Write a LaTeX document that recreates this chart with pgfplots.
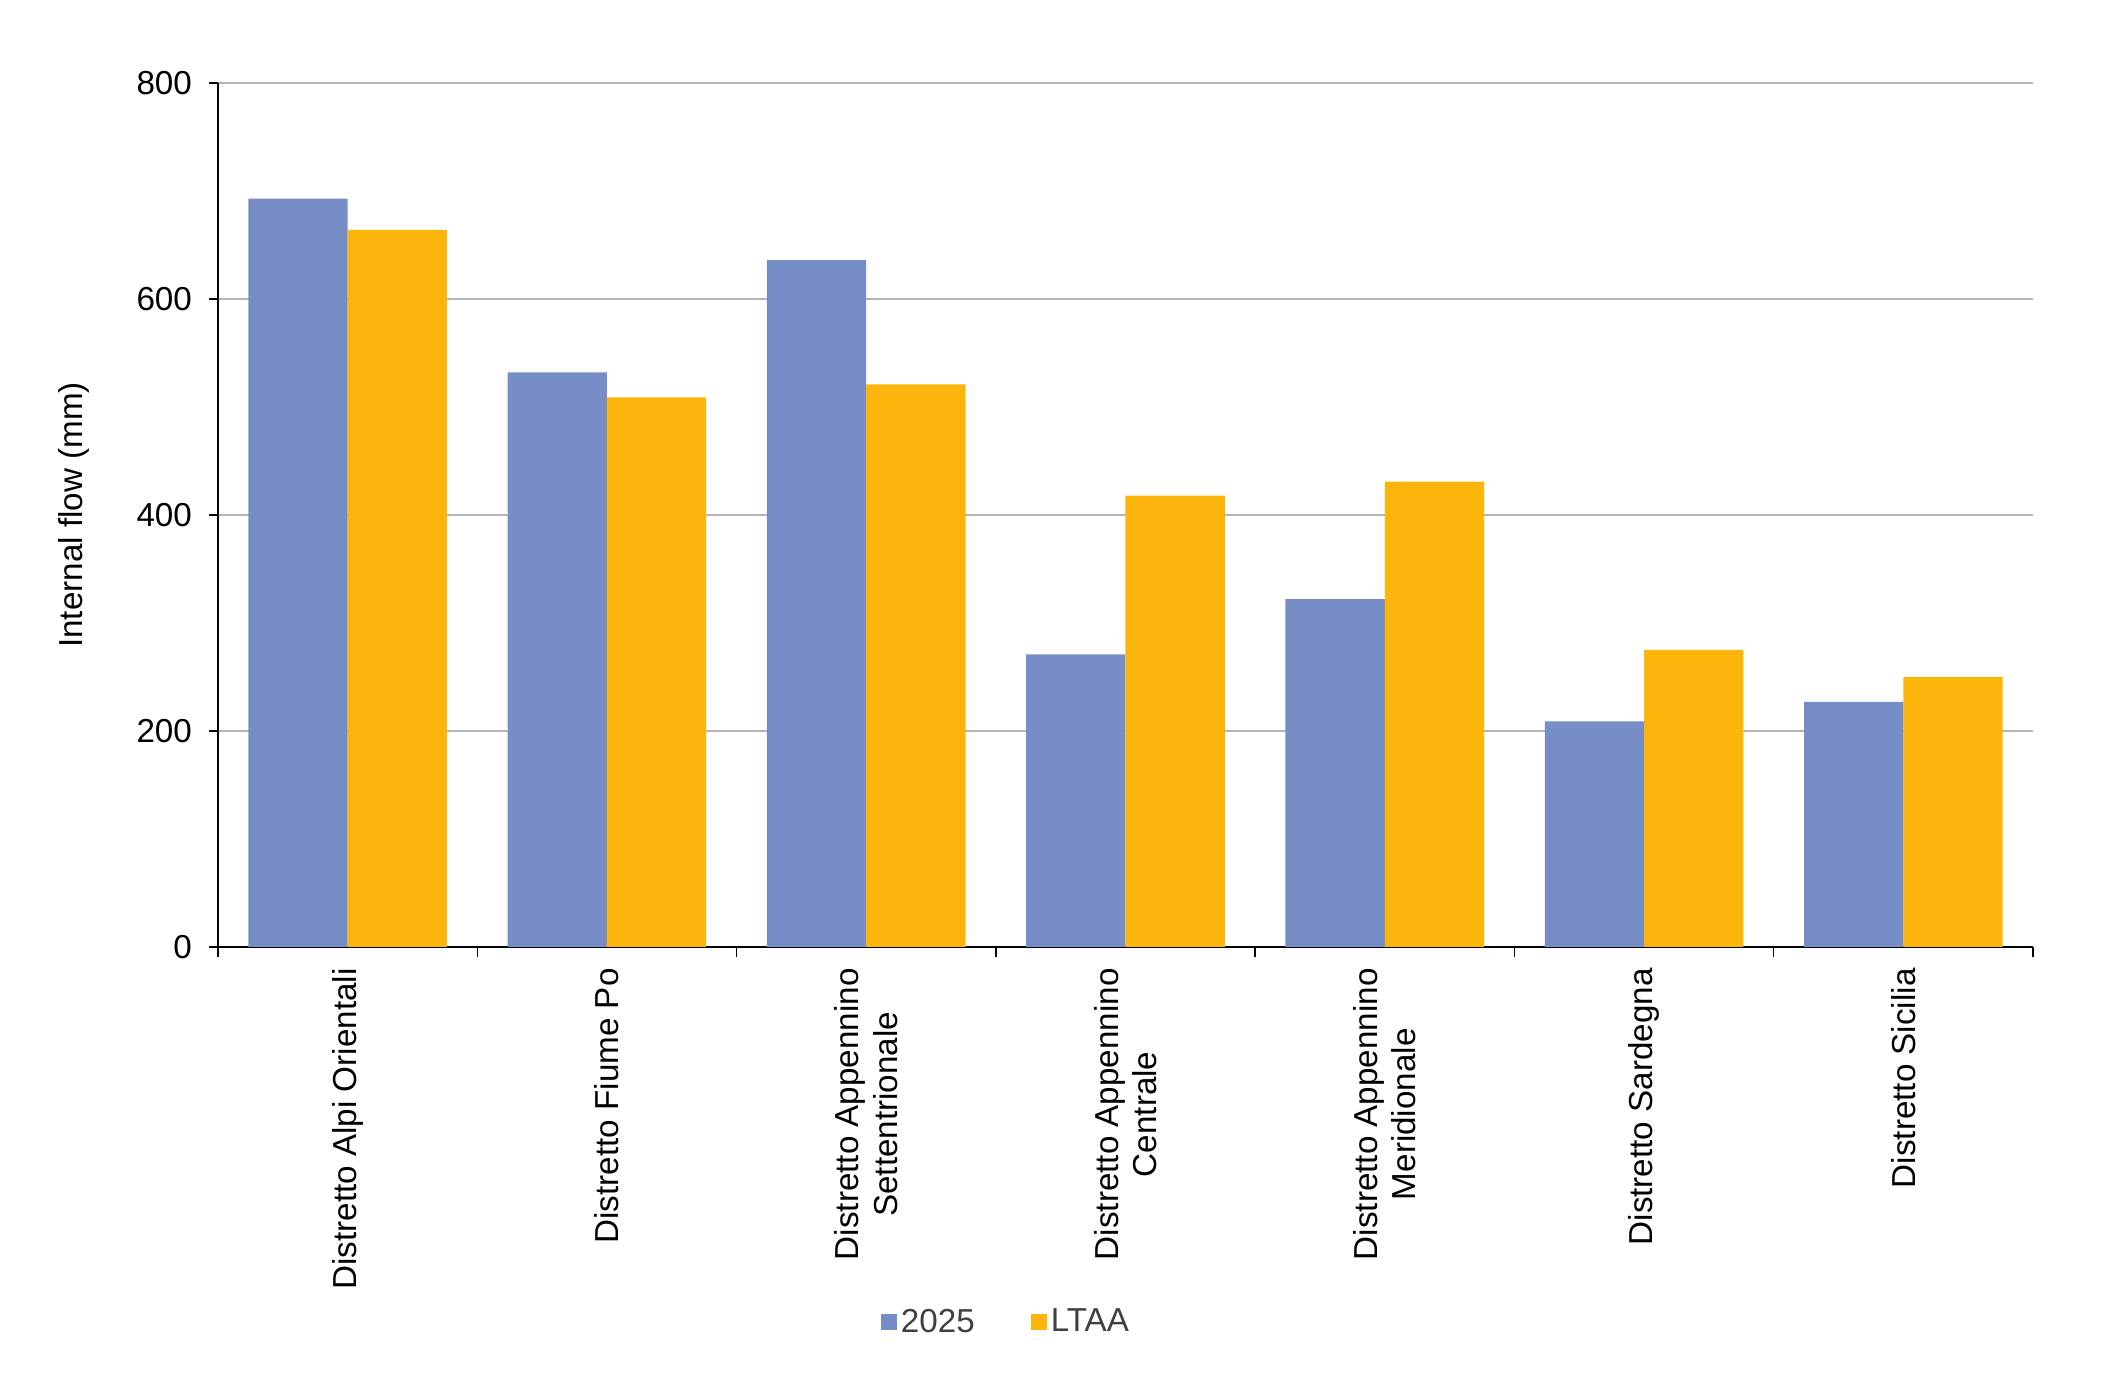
\documentclass[border=0pt]{standalone}
\usepackage{pgfplots}
\pgfplotsset{compat=1.18}
\usepackage{fontspec}
\setmainfont{Liberation Sans}
\definecolor{cblue}{RGB}{118,141,199}
\definecolor{corange}{RGB}{252,181,10}
\definecolor{cgrid}{RGB}{180,180,180}
\definecolor{ctext}{RGB}{64,64,64}
\begin{document}
\begin{tikzpicture}[font=\fontsize{16.6}{19.1}\selectfont]
\useasboundingbox (-109pt,-218.5pt) rectangle (941.5pt,473.5pt);
\begin{axis}[
  at={(0,0)}, anchor=south west,
  scale only axis, width=907.5pt, height=432pt,
  xmin=-0.5, xmax=6.5, ymin=0, ymax=800,
  axis x line*=bottom, axis y line*=left,
  axis line style={-, black, line width=0.75pt},
  ytick={0,200,400,600,800},
  ymajorgrids, grid style={cgrid, line width=0.75pt},
  /pgf/number format/assume math mode=true,
  tick align=outside,
  major tick length=4.5pt,
  minor tick length=5pt,
  tick style={black, line width=0.75pt},
  xtick={0,1,2,3,4,5,6},
  major x tick style={draw=none},
  minor xtick={-0.5,0.5,1.5,2.5,3.5,4.5,5.5,6.5},
  xticklabels={{Distretto Alpi Orientali},{Distretto Fiume Po},{Distretto Appennino\\Settentrionale},{Distretto Appennino\\Centrale},{Distretto Appennino\\Meridionale},{Distretto Sardegna},{Distretto Sicilia}},
  xticklabel style={yshift=-2.7pt, rotate=90, anchor=east, align=center, font=\fontsize{16.6}{19.1}\selectfont},
  yticklabel style={xshift=-5pt, font=\fontsize{16.6}{19.1}\selectfont},
  ylabel={Internal flow (mm)},
  ylabel style={at={(axis description cs:-0.0793,0.5)}, anchor=center, rotate=0, font=\fontsize{16.6}{19.1}\selectfont},
  legend style={at={(axis description cs:0.4347,-0.434)}, anchor=center, draw=none, fill=none,
    legend columns=2, text=ctext, font=\fontsize{16.6}{19.1}\selectfont,
    nodes={inner xsep=2pt},
    /tikz/every even column/.append style={column sep=26pt}},
  ybar, bar width=0.383,
]
\addplot[fill=cblue, draw=none, bar shift=-0.1915,
  legend image code/.code={\fill[cblue] (0pt,-4pt) rectangle (8pt,4pt);}] coordinates {
  (0,693) (1,532) (2,636) (3,271) (4,322) (5,209) (6,227)};
\addplot[fill=corange, draw=none, bar shift=0.1915,
  legend image code/.code={\fill[corange] (0pt,-4pt) rectangle (8pt,4pt);}] coordinates {
  (0,664) (1,509) (2,521) (3,418) (4,431) (5,275) (6,250)};
\legend{2025, LTAA}
\end{axis}
\end{tikzpicture}
\end{document}
